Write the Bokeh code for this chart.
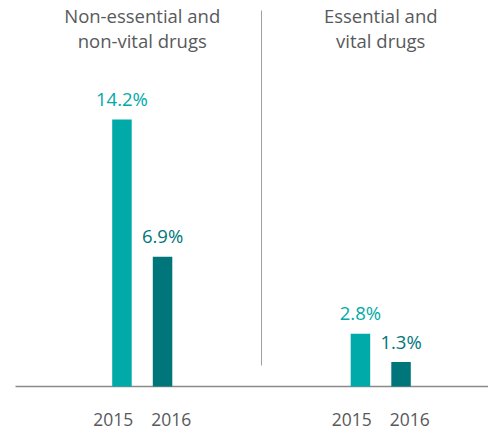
from bokeh.plotting import figure
from bokeh.models import Range1d, ColumnDataSource
from bokeh.core.properties import value
from bokeh.embed import file_html
from bokeh.resources import INLINE

# ---- data ----
groups = ["Non-essential and non-vital drugs", "Essential and vital drugs"]
group_title_line1 = ["Non-essential and", "Essential and"]
group_title_line2 = ["non-vital drugs", "vital drugs"]
years = ["2015", "2016"]
values_2015 = [14.2, 2.8]
values_2016 = [6.9, 1.3]

# ---- layout constants ----
W, H = 488, 431
px_per_group = 238.5
center_px = 141.75
px_per_unit = 18.8
base_px = H - 386.0
x_start = -center_px / px_per_group
x_end = (W - center_px) / px_per_group
y_start = -base_px / px_per_unit
y_end = (H - base_px) / px_per_unit
off = 20.3 / px_per_group
bw = 19.5 / px_per_group
yr_off = 29.0 / px_per_group

C15 = "#00aaa8"
C16 = "#00767b"
GRAY = "#58595b"
FONT = value("Open Sans")

p = figure(width=W, height=H, output_backend="svg", toolbar_location=None,
           x_range=Range1d(x_start, x_end), y_range=Range1d(y_start, y_end),
           min_border=0, min_border_left=0, min_border_right=0,
           min_border_top=0, min_border_bottom=0)
p.axis.visible = False
p.grid.visible = False
p.outline_line_color = None
p.background_fill_color = "white"
p.border_fill_color = "white"

gx = list(range(len(groups)))
x15 = [g - off for g in gx]
x16 = [g + off for g in gx]

s15 = ColumnDataSource(dict(x=x15, xl=[g - yr_off for g in gx], top=values_2015,
                            lab=[f"{v:.1f}%" for v in values_2015],
                            yr=[years[0]] * len(gx)))
s16 = ColumnDataSource(dict(x=x16, xl=[g + yr_off for g in gx], top=values_2016,
                            lab=[f"{v:.1f}%" for v in values_2016],
                            yr=[years[1]] * len(gx)))

# baseline
p.segment(x0=[x_start + 15 / px_per_group], x1=[x_end], y0=[0], y1=[0],
          line_color="#8a8a8a", line_width=1.5)

# divider
p.segment(x0=[0.5], x1=[0.5], y0=[21 / px_per_unit], y1=[y_end - 10 / px_per_unit],
          line_color="#a0a0a0", line_width=1)

p.vbar(x="x", top="top", bottom=0, width=bw, source=s15, fill_color=C15, line_color=None)
p.vbar(x="x", top="top", bottom=0, width=bw, source=s16, fill_color=C16, line_color=None)

for src, col in ((s15, C15), (s16, C16)):
    p.text(x="x", y="top", text="lab", source=src, text_color=col,
           text_font=FONT, text_font_size="18.5px", text_align="center",
           text_baseline="middle", y_offset=-21)
    p.text(x="xl", y=0, text="yr", source=src, text_color=GRAY,
           text_font=FONT, text_font_size="17.5px", text_align="center",
           text_baseline="middle", y_offset=33)

p.text(x=gx, y=[y_end] * len(gx), text=group_title_line1, text_color=GRAY,
       text_font=FONT, text_font_size="18.5px", text_align="center",
       text_baseline="middle", y_offset=15)
p.text(x=gx, y=[y_end] * len(gx), text=group_title_line2, text_color=GRAY,
       text_font=FONT, text_font_size="18.5px", text_align="center",
       text_baseline="middle", y_offset=40)

open("out.html", "w").write(file_html(p, INLINE))
